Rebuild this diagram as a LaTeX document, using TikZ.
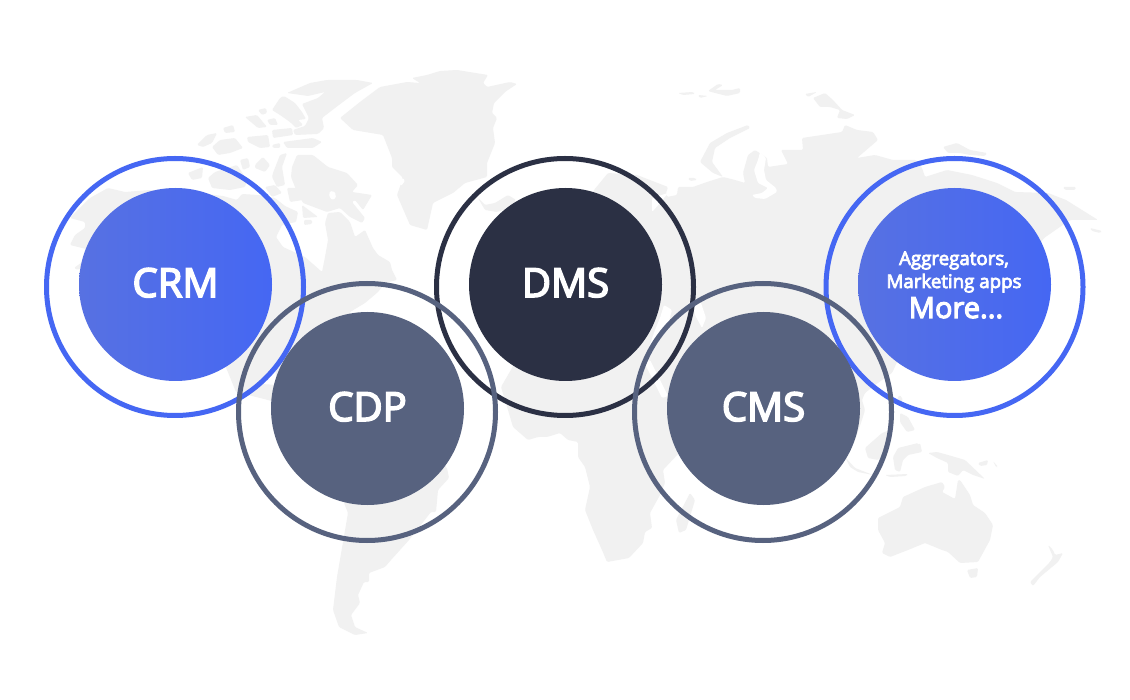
\documentclass[tikz,border=0pt]{standalone}
\usepackage{fontspec}
\newfontfamily\labfont[FakeBold=4]{Open Sans}
\definecolor{mapgray}{HTML}{F1F1F1}
\definecolor{blueR}{HTML}{4567F3}
\definecolor{blueL}{HTML}{5771E2}
\definecolor{slateC}{HTML}{57627F}
\definecolor{navyC}{HTML}{2B3044}
\tikzset{
 land/.style={fill=mapgray,draw=none,rounded corners=1.2pt},
 sea/.style={fill=white,draw=none,rounded corners=1.2pt},
 ring/.style={circle,draw=#1,line width=5pt,fill=none,minimum size=257pt,inner sep=0pt,outer sep=0pt},
 disc/.style={circle,fill=#1,draw=none,minimum size=193pt,inner sep=0pt,outer sep=0pt},
 bluedisc/.style={circle,draw=none,shading=axis,left color=blueL,right color=blueR,shading angle=90,minimum size=193pt,inner sep=0pt,outer sep=0pt},
 big/.style={anchor=base,text=white,inner sep=0pt,font=\labfont\fontsize{40}{40}\selectfont},
 small/.style={anchor=base,text=white,inner sep=0pt,font=\labfont\fontsize{#1}{#1}\selectfont},
}
\begin{document}
\begin{tikzpicture}[x=1pt,y=-1pt]
\useasboundingbox (0,0) rectangle (1130,700);
\fill[white] (0,0) rectangle (1130,700);
% ---- Greenland
\fill[land] (340,118)--(360,102)--(380,87)--(407,82)--(420,83)--(412,78)--(427,75)--(440,71)--(457,70)--(488,75)--(483,83)--(487,87)--(510,82)--(517,84)--(505,92)--(494,103)--(492,113)--(497,118)--(493,128)--(495,143)--(487,163)--(487,177)--(465,183)--(453,193)--(433,203)--(427,230)--(410,225)--(397,195)--(403,178)--(392,167)--(392,158)--(383,135)--(353,130)--cycle;
\fill[sea] (399,182)--(403,178)--(405,181)--(401,186)--cycle;
% ---- Arctic Canada
\fill[land] (287,93)--(310,83)--(327,80)--(357,80)--(373,83)--(355,93)--(335,108)--(322,118)--(324,128)--(318,134)--(295,135)--(293,130)--(305,126)--(309,118)--(302,104)--(318,98)--(325,92)--(308,96)--cycle;
\fill[land] (272,110)--(280,98)--(284,96)--(295,103)--(302,112)--(306,119)--(298,120)--(303,125)--(296,128)--(290,122)--(280,115)--cycle;
\fill[land] (197,145)--(207,135)--(217,133)--(212,143)--(203,147)--cycle;
\fill[land] (212,147)--(220,140)--(235,138)--(243,148)--(230,153)--(218,155)--cycle;
\fill[land] (223,128)--(233,125)--(235,132)--(225,133)--cycle;
\fill[land] (245,117)--(257,115)--(267,127)--(258,128)--cycle;
\fill[land] (258,110)--(266,108)--(267,113)--(262,115)--cycle;
\fill[land] (267,120)--(275,118)--(278,125)--(270,125)--cycle;
\fill[land] (247,137)--(268,135)--(270,147)--(260,148)--(248,142)--cycle;
\fill[land] (272,130)--(292,128)--(293,135)--(273,138)--cycle;
\fill[land] (283,142)--(313,138)--(322,142)--(313,148)--(287,148)--cycle;
\fill[land] (272,145)--(280,143)--(280,148)--(273,148)--cycle;
\fill[land] (292,167)--(297,155)--(313,155)--(328,167)--(347,173)--(358,185)--(352,192)--(372,195)--(363,210)--(355,200)--(352,202)--(365,218)--(362,223)--(350,217)--(340,208)--(327,212)--(303,203)--(295,187)--(291,177)--cycle;
\fill[sea] (330,191)--(335,192)--(336,198)--(332,200)--(329,196)--cycle;
\fill[land] (273,173)--(280,155)--(287,153)--(282,167)--(285,185)--(277,187)--(272,177)--cycle;
\fill[land] (255,165)--(263,157)--(270,165)--(265,172)--(255,168)--cycle;
\fill[land] (240,160)--(248,158)--(250,167)--(243,170)--cycle;
\fill[land] (208,178)--(215,172)--(237,165)--(247,180)--(245,187)--(230,190)--(212,188)--cycle;
\fill[land] (188,173)--(203,167)--(202,178)--(192,180)--cycle;
\fill[land] (265,187)--(275,185)--(282,193)--(272,197)--cycle;
\fill[land] (287,188)--(303,188)--(303,200)--(290,202)--cycle;
\fill[land] (302,205)--(318,217)--(303,218)--cycle;
\fill[land] (304,220)--(312,220)--(312,224)--(304,225)--cycle;
% ---- North America
\fill[land] (108,188)--(125,192)--(150,190)--(190,192)--(223,196)--(237,200)--(242,194)--(258,195)--(275,198)--(285,206)--(298,212)--(296,222)--(282,225)--(276,237)--(283,247)--(305,257)--(322,272)--(325,257)--(328,240)--(325,223)--(328,213)--(340,212)--(350,222)--(355,237)--(365,230)--(373,248)--(378,255)--(390,262)--(392,270)--(397,280)--(385,283)--(378,292)--(365,303)--(350,312)--(345,330)--(300,410)--(268,400)--(236,392)--(225,365)--(170,340)--(120,280)--(90,250)--(70,245)--(75,235)--(85,228)--(85,222)--(70,218)--(90,198)--cycle;
\fill[land] (74,268)--(85,260)--(86,265)--(78,270)--cycle;
\fill[sea] (262,384)--(275,368)--(277,385)--cycle;
% ---- South America
\fill[land] (344,503)--(348,513)--(337,577)--(333,610)--(339,627)--(355,635)--(368,633)--(355,627)--(351,615)--(360,603)--(358,595)--(364,582)--(369,582)--(369,573)--(385,567)--(391,560)--(409,540)--(431,512)--(436,512)--(438,490)--(449,478)--(447,468)--(420,440)--(360,440)--cycle;
% ---- Iceland
\fill[land] (478,198)--(485,205)--(495,203)--(508,195)--(516,200)--(510,208)--(497,212)--(485,210)--cycle;
% ---- Eurasia + Africa
\fill[land] (594,190)--(608,173)--(637,175)--(668,187)--(666,193)--(667,197)--(677,195)--(678,187)--(693,187)--(707,182)--(723,177)--(735,180)--(745,183)--(743,173)--(748,155)--(755,150)--(767,158)--(768,167)--(788,164)--(781,150)--(803,150)--(802,138)--(842,132)--(845,125)--(857,130)--(873,132)--(878,140)--(857,158)--(875,155)--(893,160)--(916,160)--(922,168)--(925,177)--(947,170)--(972,175)--(997,183)--(1015,192)--(1048,193)--(1066,200)--(1098,220)--(1084,220)--(1070,220)--(1044,238)--(1000,300)--(898,360)--(892,373)--(875,385)--(865,393)--(862,400)--(865,410)--(862,420)--(855,440)--(845,440)--(700,430)--(679,453)--(663,470)--(665,483)--(660,495)--(650,513)--(652,528)--(645,532)--(643,543)--(629,558)--(607,562)--(602,550)--(593,530)--(585,510)--(590,487)--(585,467)--(578,457)--(578,442)--(568,440)--(560,433)--(547,437)--(538,437)--(528,440)--(513,427)--(508,410)--(501,387)--(512,368)--(540,300)--(590,200)--cycle;
% ---- Seas over Eurasia/Africa
\fill[sea] (652,198)--(668,193)--(660,203)--(652,212)--cycle;
\fill[sea] (760,152)--(766,158)--(764,170)--(766,180)--(776,188)--(777,192)--(765,199)--(755,198)--(752,195)--(762,193)--(768,188)--(758,183)--(754,170)--(758,160)--cycle;
\fill[sea] (691,296)--(700,300)--(706,318)--(702,328)--(695,315)--cycle;
\fill[sea] (648,350)--(655,330)--(660,318)--(664,305)--(672,310)--(668,325)--(660,338)--(650,352)--cycle;
\fill[sea] (644,362)--(650,360)--(668,396)--(662,398)--cycle;
% ---- Eurasian arctic islands
\fill[land] (678,93)--(693,92)--(695,94)--(683,95)--cycle;
\fill[land] (698,95)--(708,96)--(700,98)--cycle;
\fill[land] (708,91)--(718,84)--(723,85)--(715,90)--(732,90)--(740,88)--(740,93)--(727,96)--(715,93)--cycle;
\fill[land] (748,125)--(727,133)--(710,143)--(700,162)--(713,173)--(723,177)--(712,162)--(715,148)--(730,138)--(750,128)--cycle;
\fill[land] (688,178)--(695,178)--(697,180)--(690,181)--cycle;
\fill[land] (805,94)--(817,92)--(808,97)--cycle;
\fill[land] (813,98)--(825,93)--(833,100)--(842,110)--(855,115)--(847,119)--(837,118)--(840,110)--(830,107)--(820,107)--cycle;
\fill[land] (943,147)--(957,143)--(970,150)--(987,153)--(985,156)--(970,155)--(960,153)--(948,153)--cycle;
\fill[land] (1063,187)--(1076,187)--(1075,190)--(1065,190)--cycle;
\fill[land] (1090,228)--(1102,231)--(1100,233)--(1092,231)--cycle;
% ---- Madagascar
\fill[land] (676,520)--(690,493)--(695,500)--(686,530)--(679,533)--cycle;
% ---- SE Asia
\fill[land] (900,395)--(903,400)--(900,403)--(897,398)--cycle;
\fill[land] (900,413)--(908,417)--(915,430)--(907,432)--(900,422)--cycle;
\fill[land] (865,448)--(882,433)--(890,430)--(888,452)--(878,460)--(868,458)--cycle;
\fill[land] (893,457)--(898,448)--(918,443)--(922,452)--(908,455)--(903,460)--(900,472)--(895,470)--cycle;
\fill[land] (845,457)--(855,468)--(873,475)--(858,472)--(850,467)--cycle;
\fill[land] (885,475)--(908,474)--(906,476)--(890,477)--cycle;
\fill[land] (928,453)--(937,452)--(948,455)--(965,460)--(985,479)--(973,475)--(963,470)--(958,476)--(948,472)--(948,463)--(937,458)--cycle;
\fill[land] (978,463)--(988,460)--(987,465)--(980,466)--cycle;
\fill[land] (993,461)--(998,467)--(996,467)--cycle;
\fill[land] (918,445)--(920,443)--(922,452)--(919,451)--cycle;
% ---- Australia & NZ
\fill[land] (878,518)--(900,507)--(903,497)--(925,487)--(942,482)--(945,487)--(942,492)--(955,499)--(958,480)--(960,480)--(970,495)--(973,505)--(985,513)--(993,525)--(990,540)--(978,562)--(960,563)--(948,552)--(942,550)--(925,543)--(908,550)--(890,557)--(882,553)--(885,543)--(878,530)--cycle;
\fill[land] (967,570)--(978,568)--(977,577)--(970,578)--cycle;
\fill[land] (1048,545)--(1053,550)--(1055,555)--(1063,553)--(1058,562)--(1052,567)--(1040,577)--(1033,586)--(1030,582)--(1040,572)--(1050,562)--(1053,557)--cycle;
% ---- Circles (order: back row, then front row)
\node[ring=blueR] (crmring) at (175,287) {};
\node[bluedisc] (crmdisc) at (175.5,284.5) {};
\node[ring=navyC] (dmsring) at (565,287) {};
\node[disc=navyC] (dmsdisc) at (565.5,284.5) {};
\node[ring=blueR] (morering) at (954.5,287) {};
\node[bluedisc] (moredisc) at (954.5,284.5) {};
\node[ring=slateC] (cdpring) at (367,412) {};
\node[disc=slateC] (cdpdisc) at (367.5,408.5) {};
\node[ring=slateC] (cmsring) at (763,412) {};
\node[disc=slateC] (cmsdisc) at (763.5,408.5) {};
% ---- Labels
\node[big] (crmtext) at (175.5,297) {CRM};
\node[big] (dmstext) at (565.5,297) {DMS};
\node[big] (cdptext) at (367.5,421) {CDP};
\node[big] (cmstext) at (763.5,421) {CMS};
\node[small=18.7] (aggtext) at (954,265) {Aggregators,};
\node[small=18.7] (marktext) at (954,288) {Marketing apps};
\node[small=29] (moretext) at (956,318) {More...};
\end{tikzpicture}
\end{document}
